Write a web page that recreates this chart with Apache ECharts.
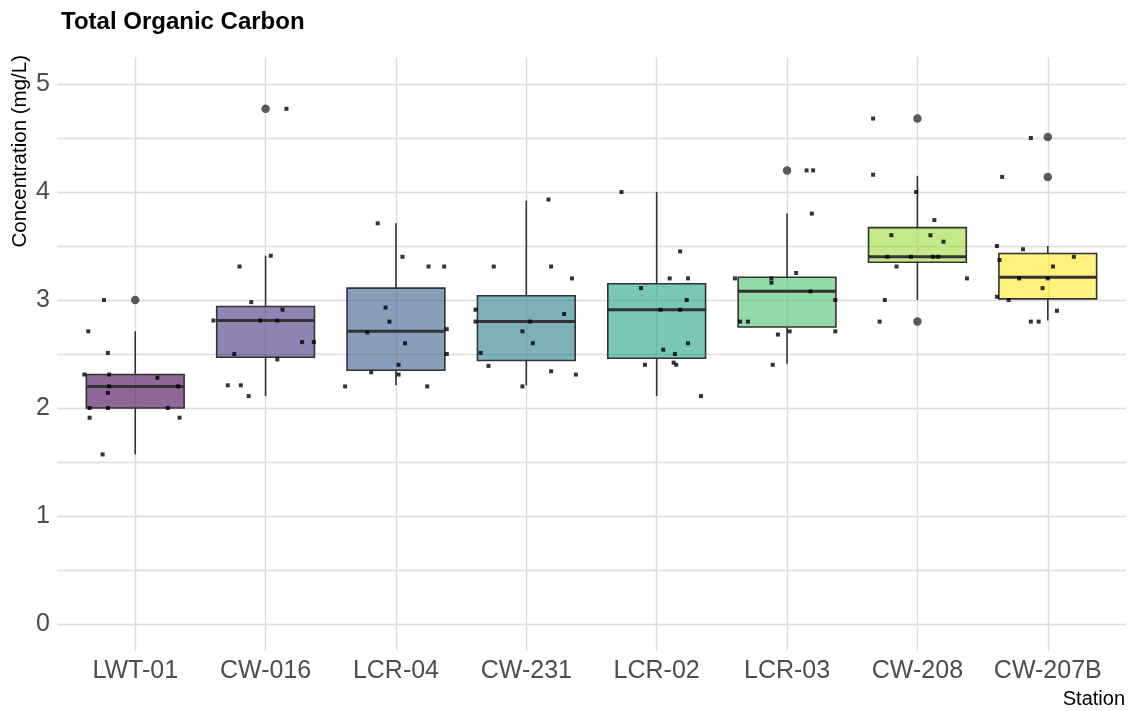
<!DOCTYPE html>
<html>
<head>
<meta charset="utf-8">
<script src="https://cdn.jsdelivr.net/npm/echarts@6/dist/echarts.min.js"></script>
<style>
  html, body { margin: 0; padding: 0; background: #fff; }
  #chart { width: 1129px; height: 711px; }
</style>
</head>
<body>
<div id="chart"></div>
<script>
// stations in plotted order
const stations = ['LWT-01', 'CW-016', 'LCR-04', 'CW-231', 'LCR-02', 'LCR-03', 'CW-208', 'CW-207B'];

// box statistics (mg/L)
const boxLow    = [1.57, 2.11, 2.21, 2.21, 2.11, 2.41, 3.00, 2.81];
const boxQ1     = [2.00, 2.47, 2.35, 2.44, 2.46, 2.75, 3.35, 3.01];
const boxMedian = [2.20, 2.81, 2.71, 2.80, 2.91, 3.08, 3.40, 3.21];
const boxQ3     = [2.31, 2.94, 3.11, 3.04, 3.15, 3.21, 3.67, 3.43];
const boxHigh   = [2.71, 3.41, 3.71, 3.92, 4.00, 3.80, 4.15, 3.50];
const outliers  = [[3.00], [4.77], [], [], [], [4.20], [4.68, 2.80], [4.51, 4.14]];

// individual samples per station
const samples = [
  [3.00, 2.71, 2.51, 2.31, 2.31, 2.28, 2.20, 2.20, 2.14, 2.00, 2.00, 2.00, 1.91, 1.91, 1.57],
  [4.77, 3.41, 3.31, 2.98, 2.91, 2.81, 2.81, 2.81, 2.61, 2.61, 2.50, 2.45, 2.21, 2.21, 2.11],
  [3.71, 3.40, 3.31, 3.31, 2.93, 2.80, 2.70, 2.73, 2.60, 2.50, 2.40, 2.33, 2.31, 2.20, 2.20],
  [3.93, 3.31, 3.31, 3.20, 2.91, 2.87, 2.80, 2.80, 2.71, 2.60, 2.51, 2.39, 2.34, 2.31, 2.20],
  [4.00, 3.45, 3.20, 3.20, 3.11, 3.00, 2.91, 2.91, 2.60, 2.54, 2.50, 2.40, 2.42, 2.40, 2.11],
  [4.20, 4.20, 3.80, 3.25, 3.20, 3.20, 3.16, 3.08, 3.00, 2.80, 2.80, 2.68, 2.71, 2.71, 2.40],
  [4.68, 4.16, 4.00, 3.74, 3.60, 3.60, 3.54, 3.40, 3.40, 3.40, 3.40, 3.31, 3.20, 3.00, 2.80],
  [4.50, 4.14, 3.50, 3.47, 3.37, 3.40, 3.31, 3.20, 3.20, 3.11, 3.03, 3.00, 2.90, 2.80, 2.80]
];
// horizontal jitter of each sample, in category units (as seen in the plot)
const jitter = [
  [-0.24, -0.36, -0.21, -0.39, -0.20, 0.17, -0.20, 0.33, -0.21, -0.35, -0.21, 0.25, -0.35, 0.34, -0.25],
  [0.16, 0.04, -0.20, -0.11, 0.13, -0.40, -0.04, 0.09, 0.28, 0.37, -0.24, 0.09, -0.29, -0.19, -0.13],
  [-0.14, 0.05, 0.25, 0.37, -0.08, -0.05, -0.22, 0.39, 0.07, 0.39, 0.02, -0.19, 0.02, -0.39, 0.24],
  [0.17, -0.25, 0.19, 0.35, -0.39, 0.29, -0.39, 0.03, -0.03, 0.05, -0.35, -0.29, 0.19, 0.38, -0.03],
  [-0.27, 0.18, 0.10, 0.24, -0.12, 0.23, 0.03, 0.18, 0.24, 0.05, 0.14, -0.09, 0.13, 0.15, 0.34],
  [0.15, 0.20, 0.19, 0.07, -0.40, -0.12, -0.12, 0.18, 0.37, -0.36, -0.30, -0.07, 0.02, 0.37, -0.11],
  [-0.34, -0.34, -0.01, 0.13, -0.20, 0.10, 0.20, -0.23, -0.05, 0.12, 0.16, -0.16, 0.38, -0.25, -0.29],
  [-0.13, -0.35, -0.39, -0.19, -0.37, 0.20, 0.04, -0.22, 0.00, -0.04, -0.39, -0.30, 0.07, -0.13, -0.07]
];

const yTicks = [0, 1, 2, 3, 4, 5];
const yGrid = [0, 0.5, 1, 1.5, 2, 2.5, 3, 3.5, 4, 4.5, 5];

const fills = ['#440154', '#46337E', '#365C8D', '#277F8E', '#1FA187', '#4AC16D', '#9FDA3A', '#FDE725'];
const FONT = "'Liberation Sans', Arial, sans-serif";

function hexAlpha(hex, a) {
  const n = parseInt(hex.slice(1), 16);
  return 'rgba(' + (n >> 16) + ',' + ((n >> 8) & 255) + ',' + (n & 255) + ',' + a + ')';
}

const boxData = stations.map(function (s, i) {
  return [i, boxLow[i], boxQ1[i], boxMedian[i], boxQ3[i], boxHigh[i]];
});
const outlierData = [];
outliers.forEach(function (list, i) {
  list.forEach(function (v) { outlierData.push([i, v]); });
});
const pointData = [];
samples.forEach(function (list, i) {
  list.forEach(function (v, k) { pointData.push([i + jitter[i][k], v]); });
});

function renderBox(params, api) {
  const x = api.value(0);
  const lo = api.coord([x, api.value(1)]);
  const q1 = api.coord([x, api.value(2)]);
  const med = api.coord([x, api.value(3)]);
  const q3 = api.coord([x, api.value(4)]);
  const hi = api.coord([x, api.value(5)]);
  const half = api.size([0.75, 0])[0] / 2;
  const line = { stroke: '#333333', lineWidth: 1.6 };
  return {
    type: 'group',
    children: [
      { type: 'line', shape: { x1: lo[0], y1: lo[1], x2: q1[0], y2: q1[1] }, style: line },
      { type: 'line', shape: { x1: q3[0], y1: q3[1], x2: hi[0], y2: hi[1] }, style: line },
      {
        type: 'rect',
        shape: { x: q3[0] - half, y: q3[1], width: half * 2, height: q1[1] - q3[1] },
        style: { fill: hexAlpha(fills[params.dataIndex], 0.6), stroke: '#333333', lineWidth: 1.6 }
      },
      { type: 'line', shape: { x1: med[0] - half, y1: med[1], x2: med[0] + half, y2: med[1] },
        style: { stroke: '#333333', lineWidth: 3 } }
    ]
  };
}

const gridLine = { color: '#dcdcdc', width: 1.4 };

const chart = echarts.init(document.getElementById('chart'));
chart.setOption({
  animation: false,
  backgroundColor: '#ffffff',
  textStyle: { fontFamily: FONT },
  grid: { left: 57, right: 3, top: 57, bottom: 60 },
  xAxis: {
    type: 'value',
    min: -0.6,
    max: 7.6,
    axisLine: { show: false },
    axisTick: { show: false, customValues: stations.map(function (s, i) { return i; }) },
    axisLabel: {
      customValues: stations.map(function (s, i) { return i; }),
      formatter: function (v) { return stations[Math.round(v)]; },
      color: '#4d4d4d',
      fontSize: 25,
      margin: 8,
      fontFamily: FONT
    },
    splitLine: { show: true, lineStyle: gridLine }
  },
  yAxis: {
    type: 'value',
    min: -0.25,
    max: 5.25,
    axisLine: { show: false },
    axisTick: { show: false, customValues: yGrid },
    axisLabel: {
      customValues: yTicks,
      color: '#4d4d4d',
      fontSize: 25,
      margin: 7,
      fontFamily: FONT
    },
    splitLine: { show: true, lineStyle: gridLine }
  },
  graphic: [
    { type: 'text', left: 61, top: 10,
      style: { text: 'Total Organic Carbon', font: 'bold 24px ' + FONT, fill: '#000' } },
    { type: 'text', x: 20, y: 55, rotation: Math.PI / 2,
      style: { text: 'Concentration (mg/L)', font: '20.5px ' + FONT, fill: '#000', align: 'right', verticalAlign: 'middle' } },
    { type: 'text', x: 1125, y: 699,
      style: { text: 'Station', font: '20px ' + FONT, fill: '#000', align: 'right', verticalAlign: 'middle' } }
  ],
  series: [
    {
      type: 'custom',
      renderItem: renderBox,
      data: boxData,
      encode: { x: 0, y: [1, 2, 3, 4, 5] },
      z: 2,
      silent: true
    },
    {
      type: 'scatter',
      data: outlierData,
      symbol: 'circle',
      symbolSize: 8.5,
      itemStyle: { color: '#333333' },
      z: 3,
      silent: true
    },
    {
      type: 'scatter',
      data: pointData,
      symbol: 'rect',
      symbolSize: 4,
      itemStyle: { color: '#000000' },
      z: 4,
      silent: true
    }
  ]
});
</script>
</body>
</html>
